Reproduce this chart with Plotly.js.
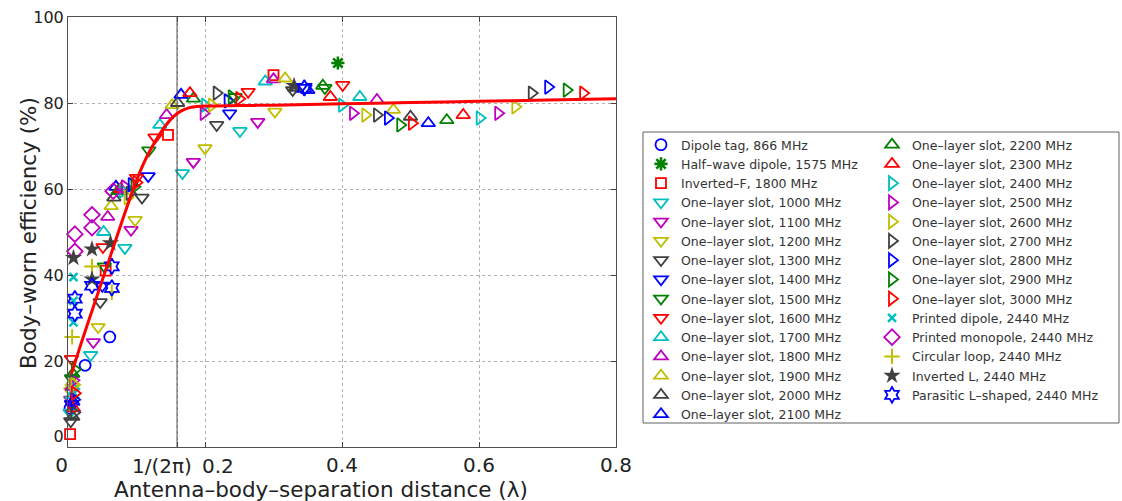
<!DOCTYPE html>
<html>
<head>
<meta charset="utf-8">
<script src="https://cdn.plot.ly/plotly-3.0.1.min.js"></script>
<style>html,body{margin:0;padding:0;background:#fff;}#chart{width:1122px;height:501px;}</style>
</head>
<body>
<div id="chart"></div>
<script>
// ---- data ----
const seriesNames = [
  "Dipole tag, 866 MHz", "Half\u2013wave dipole, 1575 MHz", "Inverted\u2013F, 1800 MHz",
  "One\u2013layer slot, 1000 MHz", "One\u2013layer slot, 1100 MHz", "One\u2013layer slot, 1200 MHz",
  "One\u2013layer slot, 1300 MHz", "One\u2013layer slot, 1400 MHz", "One\u2013layer slot, 1500 MHz",
  "One\u2013layer slot, 1600 MHz", "One\u2013layer slot, 1700 MHz", "One\u2013layer slot, 1800 MHz",
  "One\u2013layer slot, 1900 MHz", "One\u2013layer slot, 2000 MHz", "One\u2013layer slot, 2100 MHz",
  "One\u2013layer slot, 2200 MHz", "One\u2013layer slot, 2300 MHz", "One\u2013layer slot, 2400 MHz",
  "One\u2013layer slot, 2500 MHz", "One\u2013layer slot, 2600 MHz", "One\u2013layer slot, 2700 MHz",
  "One\u2013layer slot, 2800 MHz", "One\u2013layer slot, 2900 MHz", "One\u2013layer slot, 3000 MHz",
  "Printed dipole, 2440 MHz", "Printed monopole, 2440 MHz", "Circular loop, 2440 MHz",
  "Inverted L, 2440 MHz", "Parasitic L\u2013shaped, 2440 MHz"
];

const dipoleTagX = [0.003, 0.025, 0.061];
const dipoleTagY = [9, 19, 25.6];
const halfWaveX = [0.394];
const halfWaveY = [89.3];
const invertedFX = [0.003, 0.055, 0.146, 0.3];
const invertedFY = [3, 41, 72.6, 86.5];

const slot1000X = [0.003, 0.033, 0.083, 0.167, 0.251];
const slot1000Y = [8, 21.4, 46.3, 63.7, 73.5];
const slot1100X = [0.004, 0.037, 0.092, 0.183, 0.277];
const slot1100Y = [11, 24.4, 50.5, 66.3, 75.6];
const slot1200X = [0.004, 0.044, 0.098, 0.2, 0.302];
const slot1200Y = [13, 27.9, 52.8, 69.5, 78];
const slot1300X = [0.004, 0.047, 0.108, 0.217, 0.328];
const slot1300Y = [6, 33.7, 58, 74.9, 83];
const slot1400X = [0.005, 0.05, 0.117, 0.236, 0.346];
const slot1400Y = [10, 37.5, 63, 77.6, 83.5];
const slot1500X = [0.005, 0.053, 0.118, 0.244, 0.375];
const slot1500Y = [16, 42, 69, 81.4, 83.5];
const slot1600X = [0.005, 0.051, 0.1, 0.127, 0.263, 0.401];
const slot1600Y = [20.5, 46.5, 62.6, 72, 82.6, 84.2];
const slot1700X = [0.006, 0.052, 0.134, 0.288, 0.426];
const slot1700Y = [12, 50, 74.9, 85, 81.4];
const slot1800X = [0.006, 0.058, 0.144, 0.3, 0.451];
const slot1800Y = [14, 53.5, 77.2, 85.5, 80.7];
const slot1900X = [0.006, 0.063, 0.152, 0.317, 0.475];
const slot1900Y = [15, 56, 79.5, 85.7, 78.4];
const slot2000X = [0.007, 0.067, 0.16, 0.331, 0.5];
const slot2000Y = [7, 58, 80, 83.5, 76.8];
const slot2100X = [0.007, 0.07, 0.165, 0.35, 0.526];
const slot2100Y = [10.5, 60.5, 81.9, 83, 75.3];
const slot2200X = [0.007, 0.073, 0.183, 0.372, 0.553];
const slot2200Y = [17, 59.5, 81, 84, 76];
const slot2300X = [0.008, 0.077, 0.178, 0.383, 0.577];
const slot2300Y = [9, 60, 82.3, 81.4, 77.2];
const slot2400X = [0.008, 0.08, 0.2, 0.4, 0.601];
const slot2400Y = [13.5, 59.5, 79.5, 79.5, 76.5];
const slot2500X = [0.008, 0.083, 0.198, 0.416, 0.628];
const slot2500Y = [15.5, 60.5, 77.6, 77.6, 77.6];
const slot2600X = [0.009, 0.087, 0.21, 0.434, 0.653];
const slot2600Y = [14.5, 58, 79.5, 77.2, 79.1];
const slot2700X = [0.009, 0.09, 0.217, 0.451, 0.677];
const slot2700Y = [8, 59, 82.3, 77.2, 82.3];
const slot2800X = [0.009, 0.093, 0.233, 0.467, 0.701];
const slot2800Y = [11, 61, 80.5, 76.5, 83.7];
const slot2900X = [0.01, 0.097, 0.239, 0.485, 0.728];
const slot2900Y = [18, 60.5, 81.4, 74.9, 83];
const slot3000X = [0.01, 0.1, 0.25, 0.502, 0.752];
const slot3000Y = [12.5, 61.5, 81, 75.3, 82.3];

const printedDipoleX = [0.008, 0.008, 0.008];
const printedDipoleY = [39.5, 34, 29];
const printedMonopoleX = [0.01, 0.01, 0.035, 0.035, 0.066];
const printedMonopoleY = [49.5, 45.5, 54, 51, 59.5];
const circularLoopX = [0.006, 0.035, 0.064];
const circularLoopY = [25.6, 42, 36];
const invertedLX = [0.008, 0.035, 0.035, 0.062, 0.33];
const invertedLY = [44, 46, 39, 47.4, 84];
const parasiticX = [0.01, 0.01, 0.035, 0.064, 0.064, 0.345];
const parasiticY = [34.5, 31, 37.5, 42, 37, 83.5];

// fitted curve
const fitX = [0.005, 0.02, 0.04, 0.06, 0.08, 0.1, 0.11, 0.12, 0.13, 0.14, 0.15, 0.16, 0.17, 0.18, 0.2, 0.25, 0.3, 0.4, 0.5, 0.6, 0.7, 0.8];
const fitY = [17, 24.5, 34, 43.5, 53, 62, 65.8, 69, 71.8, 74.2, 76.2, 77.6, 78.5, 79, 79.3, 79.4, 79.5, 79.8, 80.1, 80.4, 80.7, 81];

// reference line at 1/(2*pi)
const invTwoPi = 1 / (2 * Math.PI);
const refLineX = [invTwoPi, invTwoPi];
const refLineY = [0, 100];

const xTickVals = [0, invTwoPi, 0.2, 0.4, 0.6, 0.8];
const xTickText = ["0\u00a0\u00a0", "", "", "0.4", "0.6", "0.8"];
// crowded tick labels drawn as annotations, nudged apart like the reference
const crowdedLabels = [{text:"1/(2\u03c0)", x:invTwoPi, shift:-15}, {text:"0.2", x:0.2, shift:13}];
const yTickVals = [0, 20, 40, 60, 80, 100];
const yTickText = ["0<br>\u00a0", "20", "40", "60", "80", "100"];
const xTitle = "Antenna\u2013body\u2013separation distance (\u03bb)";
const yTitle = "Body\u2013worn efficiency (%)";

// ---- styling ----
const C = {b:'#0000ff', g:'#008000', r:'#ff0000', c:'#00bfbf', m:'#bf00bf', y:'#bfbf00', k:'#404040'};
const FONT = 'DejaVu Sans, Arial, sans-serif';

const xs = [dipoleTagX, halfWaveX, invertedFX,
  slot1000X, slot1100X, slot1200X, slot1300X, slot1400X, slot1500X, slot1600X,
  slot1700X, slot1800X, slot1900X, slot2000X, slot2100X, slot2200X, slot2300X,
  slot2400X, slot2500X, slot2600X, slot2700X, slot2800X, slot2900X, slot3000X,
  printedDipoleX, printedMonopoleX, circularLoopX, invertedLX, parasiticX];
const ys = [dipoleTagY, halfWaveY, invertedFY,
  slot1000Y, slot1100Y, slot1200Y, slot1300Y, slot1400Y, slot1500Y, slot1600Y,
  slot1700Y, slot1800Y, slot1900Y, slot2000Y, slot2100Y, slot2200Y, slot2300Y,
  slot2400Y, slot2500Y, slot2600Y, slot2700Y, slot2800Y, slot2900Y, slot3000Y,
  printedDipoleY, printedMonopoleY, circularLoopY, invertedLY, parasiticY];
const cycle = [C.c, C.m, C.y, C.k, C.b, C.g, C.r];
const styles = [
  {s:'circle-open', c:C.b, size:11},
  {s:'asterisk-open', c:C.g, size:11, w:2.6},
  {s:'square-open', c:C.r, size:10},
];
for (let i = 0; i < 21; i++) {
  const sym = i < 7 ? 'triangle-down-open' : (i < 14 ? 'triangle-up-open' : 'triangle-right-open');
  styles.push({s:sym, c:cycle[i % 7], size:12});
}
styles.push({s:'x-thin-open', c:C.c, size:8, w:2.5});
styles.push({s:'diamond-open', c:C.m, size:12});
styles.push({s:'cross-thin-open', c:C.y, size:11, w:2});
styles.push({s:'star', c:C.k, size:13, w:0});
styles.push({s:'hexagram-open', c:C.b, size:12});

const traces = [];
seriesNames.forEach((name, i) => {
  const st = styles[i];
  traces.push({
    type:'scatter', mode:'markers', name:name, x:xs[i], y:ys[i],
    legend: i < 15 ? 'legend' : 'legend2',
    marker:{symbol:st.s, color:st.c, size:st.size,
            line:{color:st.c, width: st.w !== undefined ? st.w : 1.8}},
    cliponaxis:false, hoverinfo:'x+y+name'
  });
});
traces.push({type:'scatter', mode:'lines', x:refLineX, y:refLineY, showlegend:false,
  line:{color:'#505050', width:1}, hoverinfo:'skip'});
traces.push({type:'scatter', mode:'lines', x:fitX, y:fitY, showlegend:false,
  line:{color:'#ff0000', width:3, shape:'spline', smoothing:0.6}, hoverinfo:'skip'});

const L = 68, R = 506, T = 17, B = 54;
const PW = 1122 - L - R, PH = 501 - T - B;
const px2x = p => (p - L) / PW;
const px2y = p => (501 - B - p) / PH;

const legendCommon = {
  orientation:'v', xanchor:'left', yanchor:'top',
  bgcolor:'rgba(0,0,0,0)', borderwidth:0,
  font:{family:FONT, size:12.5, color:'#333'},
  itemclick:false, itemdoubleclick:false, tracegroupgap:0, itemsizing:'trace'
};

const annotations = [
  {text:xTitle, xref:'paper', yref:'paper', x:px2x(321), y:px2y(489), xanchor:'center', yanchor:'middle',
   showarrow:false, font:{family:FONT, size:21.5, color:'#222'}},
  {text:yTitle, xref:'paper', yref:'paper', x:px2x(28), y:px2y(233), xanchor:'center', yanchor:'middle',
   textangle:-90, showarrow:false, font:{family:FONT, size:21.5, color:'#222'}}
];
crowdedLabels.forEach(lb => annotations.push({
  text:lb.text, xref:'x', yref:'paper', x:lb.x, y:px2y(466), xshift:lb.shift,
  xanchor:'center', yanchor:'middle', showarrow:false, font:{family:FONT, size:20, color:'#222'}
}));

const layout = {
  width:1122, height:501,
  margin:{l:L, r:R, t:T, b:B, pad:0},
  paper_bgcolor:'#fff', plot_bgcolor:'#fff',
  font:{family:FONT, color:'#222'},
  showlegend:true,
  legend:Object.assign({x:px2x(641), y:px2y(130)}, legendCommon),
  legend2:Object.assign({x:px2x(872), y:px2y(130)}, legendCommon),
  xaxis:{
    range:[0, 0.8], tickmode:'array', tickvals:xTickVals, ticktext:xTickText, tickangle:0,
    ticks:'inside', ticklen:5, tickcolor:'#404040',
    showline:true, linecolor:'#505050', linewidth:1, mirror:'ticks',
    showgrid:true, gridcolor:'#b0b0b0', griddash:'dot', gridwidth:1,
    zeroline:false, tickfont:{family:FONT, size:20, color:'#222'}
  },
  yaxis:{
    range:[0, 100], tickmode:'array', tickvals:yTickVals, ticktext:yTickText,
    ticks:'inside', ticklen:5, tickcolor:'#404040',
    showline:true, linecolor:'#505050', linewidth:1, mirror:'ticks',
    showgrid:true, gridcolor:'#b0b0b0', griddash:'dot', gridwidth:1,
    zeroline:false, tickfont:{family:FONT, size:16, color:'#222'}
  },
  annotations:annotations,
  shapes:[{type:'rect', xref:'paper', yref:'paper',
    x0:px2x(643), x1:px2x(1119), y0:px2y(423), y1:px2y(132),
    line:{color:'#606060', width:1}, fillcolor:'rgba(0,0,0,0)', layer:'below'}]
};

Plotly.newPlot('chart', traces, layout, {displayModeBar:false, staticPlot:true});
</script>
</body>
</html>
